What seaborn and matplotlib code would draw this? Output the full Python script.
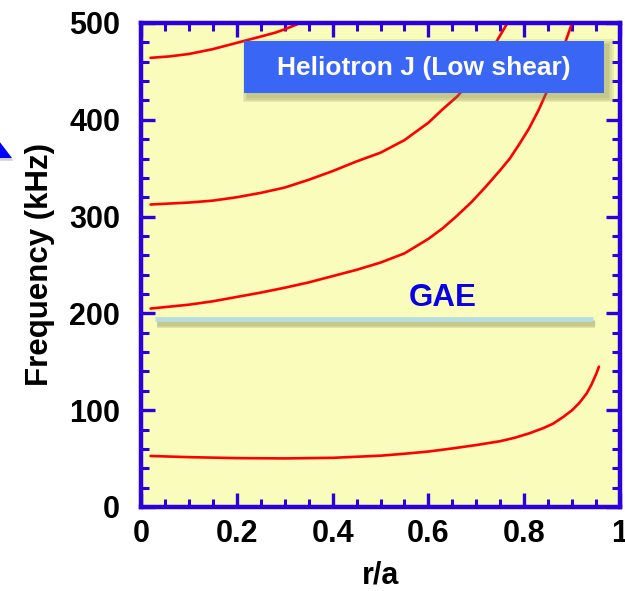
import matplotlib
matplotlib.use("Agg")
import matplotlib.pyplot as plt
import matplotlib.patheffects as pe
from matplotlib.patches import Rectangle, Polygon
from matplotlib.ticker import MultipleLocator
import pandas as pd
import seaborn as sns

# Continuum branches of shear Alfven spectrum (r/a vs frequency in kHz)
branch1_r = [0.02, 0.10, 0.20, 0.30, 0.40, 0.50, 0.55, 0.60, 0.65, 0.70, 0.75, 0.78, 0.81,
             0.84, 0.86, 0.88, 0.90, 0.915, 0.93, 0.94, 0.95, 0.956]
branch1_f = [52.7, 51.5, 50.5, 50.2, 50.8, 53.0, 55.0, 57.3, 60.5, 64.0, 68.0, 71.5, 76.0,
             81.5, 86.0, 92.5, 100.0, 107.5, 117.0, 126.0, 137.0, 145.0]

branch2_r = [0.02, 0.10, 0.15, 0.20, 0.25, 0.30, 0.35, 0.40, 0.45, 0.50, 0.55, 0.60, 0.63,
             0.66, 0.69, 0.72, 0.75, 0.77, 0.79, 0.81, 0.83, 0.85, 0.87, 0.885, 0.90]
branch2_f = [205, 209, 212.5, 217, 221.5, 226.5, 232, 238.5, 245, 252.5, 262, 277, 288,
             301, 315, 331, 348, 360, 375, 391, 410, 432, 459, 479, 500]

branch3_r = [0.02, 0.10, 0.15, 0.20, 0.25, 0.30, 0.35, 0.40, 0.45, 0.50, 0.55, 0.60, 0.63,
             0.66, 0.69, 0.72, 0.74, 0.765]
branch3_f = [312.5, 314.5, 316.5, 320, 324.5, 330, 338, 347, 357, 366, 379, 397, 411,
             424, 441, 462, 479, 500]

branch4_r = [0.02, 0.06, 0.10, 0.15, 0.20, 0.25, 0.28, 0.30, 0.33, 0.335]
branch4_f = [464, 465.5, 468, 473, 479.5, 486, 490, 493.5, 499.5, 500]

# GAE frequency band
gae_r = [0.029, 0.943]
gae_f = [194, 194]

x_ticks = [0, 0.2, 0.4, 0.6, 0.8, 1]
x_ticklabels = ["0", "0.2", "0.4", "0.6", "0.8", "1"]
y_ticks = [0, 100, 200, 300, 400, 500]
y_ticklabels = ["0", "100", "200", "300", "400", "500"]

sns.set_theme(style="white")
plt.rcParams["font.family"] = ["Liberation Sans", "DejaVu Sans"]
plt.rcParams["font.weight"] = "bold"

W, H = 625, 591
fig = plt.figure(figsize=(W / 100, H / 100), dpi=100)
ax = fig.add_axes([141 / W, 1 - 507 / H, 479 / W, 484 / H])
ax.set_facecolor("#fafcbc")

frames = []
for name, r, f in [("b1", branch1_r, branch1_f), ("b2", branch2_r, branch2_f),
                   ("b3", branch3_r, branch3_f), ("b4", branch4_r, branch4_f)]:
    frames.append(pd.DataFrame({"r": r, "f": f, "branch": name}))
df = pd.concat(frames, ignore_index=True)

sns.lineplot(data=df, x="r", y="f", units="branch", estimator=None,
             color="#ff0000", linewidth=1.9, ax=ax, legend=False, sort=False)

# GAE line with a soft drop shadow
gae = pd.DataFrame({"r": gae_r, "f": gae_f})
soft_line_shadow = [pe.SimpleLineShadow(offset=(1.5, -2.5 - k * 0.6), shadow_color="#8a8a55",
                                        alpha=0.18, linewidth=3.4 + k * 1.2)
                    for k in range(3)]
sns.lineplot(data=gae, x="r", y="f", color="#b6dde0", linewidth=3.4, ax=ax,
             legend=False, solid_capstyle="butt",
             path_effects=soft_line_shadow + [pe.Normal()])

ax.text(0.63, 216, "GAE", color="#0a00e6", fontsize=22.5, fontweight="bold",
        ha="center", va="center")

ax.set_xlim(0, 1)
ax.set_ylim(0, 500)
ax.set_xticks(x_ticks)
ax.set_xticklabels(x_ticklabels)
ax.set_yticks(y_ticks)
ax.set_yticklabels(y_ticklabels)
ax.xaxis.set_minor_locator(MultipleLocator(0.05))
ax.yaxis.set_minor_locator(MultipleLocator(20))

blue = "#2a00dc"
for s in ax.spines.values():
    s.set_color(blue)
    s.set_linewidth(3.2)
    s.set_visible(True)
ax.tick_params(which="both", direction="in", top=True, right=True, bottom=True, left=True,
               color=blue, labelsize=22)
ax.tick_params(which="major", length=10, width=2.4)
ax.tick_params(which="minor", length=6, width=2.2)
ax.tick_params(axis="y", which="major", pad=15)
ax.tick_params(axis="x", which="major", pad=9)
for lab in ax.get_xticklabels() + ax.get_yticklabels():
    lab.set_fontweight("bold")
    lab.set_color("#000000")

ax.set_xlabel("r/a", fontsize=22, fontweight="bold", color="#000000", labelpad=8)
ax.set_ylabel("Frequency (kHz)", fontsize=22.5, fontweight="bold", color="#000000", labelpad=10)

# Title box with soft shadow
bx0, by0, bw, bh = 244, 41, 360, 52
for k in range(4):
    grow = 1 + k * 1.5
    sh = Rectangle(((bx0 + 4 - grow) / W, 1 - (by0 + bh + 4 + grow) / H),
                   (bw + 2 * grow) / W, (bh + 2 * grow) / H, transform=fig.transFigure,
                   facecolor="#7a7a45", edgecolor="none", alpha=0.12, zorder=9)
    fig.patches.append(sh)
box = Rectangle((bx0 / W, 1 - (by0 + bh) / H), bw / W, bh / H, transform=fig.transFigure,
                facecolor="#3a66f5", edgecolor="none", zorder=10)
fig.patches.append(box)
fig.text((bx0 + bw / 2) / W, 1 - (by0 + bh / 2 + 1) / H, "Heliotron J (Low shear)",
         color="white", fontsize=19, fontweight="bold", ha="center", va="center", zorder=11)

# Partial arrow head at left margin
tri = Polygon([(-4 / W, 1 - 137 / H), (12 / W, 1 - 158 / H), (-20 / W, 1 - 158 / H)],
              closed=True, transform=fig.transFigure, facecolor="#0000ff", edgecolor="none",
              path_effects=[pe.SimplePatchShadow(offset=(1, -2), shadow_rgbFace="#888888", alpha=0.4),
                            pe.Normal()])
fig.patches.append(tri)

fig.savefig("out.png", dpi=100, facecolor="white")
